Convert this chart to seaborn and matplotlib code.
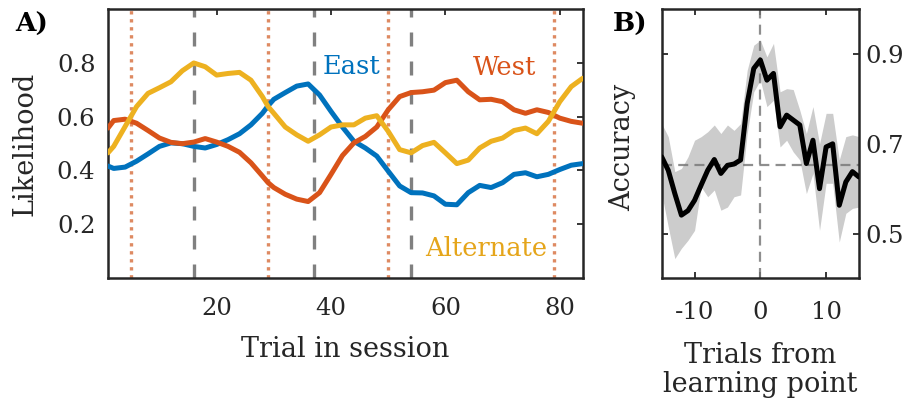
import numpy as np
import pandas as pd
import matplotlib
matplotlib.use("Agg")
import matplotlib.pyplot as plt
import seaborn as sns

# ---------------- Data: panel A ----------------
trials = [1, 2, 4, 6, 8, 10, 12, 14, 16, 18, 20, 22, 24, 26, 28, 29, 30, 32, 34, 36,
          38, 40, 42, 44, 46, 48, 50, 52, 54, 56, 58, 60, 62, 64, 66, 68, 70, 72, 74,
          76, 78, 80, 82, 84]
east_v = [0.416, 0.407, 0.412, 0.434, 0.461, 0.489, 0.502, 0.499, 0.489, 0.483, 0.496,
          0.514, 0.536, 0.569, 0.612, 0.640, 0.664, 0.689, 0.713, 0.721, 0.680, 0.619,
          0.561, 0.508, 0.483, 0.453, 0.397, 0.342, 0.317, 0.316, 0.305, 0.274, 0.272,
          0.317, 0.344, 0.336, 0.354, 0.385, 0.391, 0.376, 0.385, 0.403, 0.419, 0.425]
west_v = [0.557, 0.585, 0.590, 0.575, 0.548, 0.520, 0.504, 0.499, 0.505, 0.518, 0.505,
          0.489, 0.467, 0.428, 0.379, 0.354, 0.336, 0.311, 0.293, 0.284, 0.317, 0.385,
          0.455, 0.502, 0.526, 0.561, 0.625, 0.674, 0.689, 0.692, 0.698, 0.726, 0.735,
          0.692, 0.662, 0.664, 0.655, 0.625, 0.612, 0.625, 0.615, 0.594, 0.582, 0.575]
alt_v = [0.465, 0.489, 0.563, 0.637, 0.686, 0.707, 0.729, 0.770, 0.799, 0.785, 0.754,
         0.760, 0.764, 0.735, 0.674, 0.637, 0.612, 0.561, 0.532, 0.508, 0.532, 0.561,
         0.569, 0.569, 0.594, 0.603, 0.545, 0.477, 0.465, 0.492, 0.504, 0.465, 0.425,
         0.438, 0.483, 0.508, 0.520, 0.548, 0.557, 0.536, 0.582, 0.655, 0.711, 0.742]

switch_trials = [5, 29, 50, 79]       # orange dotted lines
learn_trials = [16, 37, 54]           # gray dashed lines
a_xticks = [20, 40, 60, 80]
a_yticks = [0.2, 0.4, 0.6, 0.8]

# ---------------- Data: panel B ----------------
b_x = list(range(-15, 16))
b_mean = [0.671, 0.641, 0.589, 0.541, 0.551, 0.574, 0.608, 0.641, 0.665, 0.634, 0.652,
          0.655, 0.664, 0.79, 0.868, 0.887, 0.842, 0.857, 0.738, 0.764, 0.753, 0.742,
          0.656, 0.708, 0.60, 0.693, 0.70, 0.563, 0.615, 0.638, 0.626]
b_upper = [0.745, 0.716, 0.638, 0.645, 0.671, 0.708, 0.716, 0.727, 0.742, 0.723, 0.742,
           0.730, 0.745, 0.864, 0.92, 0.931, 0.894, 0.924, 0.816, 0.823, 0.821, 0.775,
           0.723, 0.783, 0.70, 0.768, 0.768, 0.664, 0.716, 0.72, 0.716]
b_lower = [0.589, 0.515, 0.444, 0.467, 0.485, 0.507, 0.604, 0.582, 0.597, 0.552, 0.559,
           0.582, 0.586, 0.723, 0.816, 0.842, 0.783, 0.797, 0.693, 0.708, 0.682, 0.664,
           0.589, 0.634, 0.507, 0.612, 0.612, 0.481, 0.545, 0.556, 0.559]
chance_level = 0.652
b_xticks = [-10, 0, 10]
b_xticklabels = ["-10", "0", "10"]
b_yticks = [0.5, 0.7, 0.9]

# ---------------- Style ----------------
sns.set_style("white")
plt.rcParams["font.family"] = ["DejaVu Serif"]
plt.rcParams["axes.unicode_minus"] = False

C_EAST = "#0072BD"
C_WEST = "#D95319"
C_ALT = "#EDB120"
C_DOT = "#DE8A62"
SPINE = "#262626"

fig = plt.figure(figsize=(9.19, 4.04), dpi=100)
axA = fig.add_axes([0.1175, 0.312, 0.5165, 0.666])
axB = fig.add_axes([0.72, 0.311, 0.2147, 0.666])

# ---- Panel A ----
for t in switch_trials:
    axA.axvline(t, color=C_DOT, lw=2.4, ls=(0, (1, 1.4)), zorder=1)
for t in learn_trials:
    axA.axvline(t, color="#808080", lw=2.4, ls=(0, (4.2, 4.5)), zorder=1)

dfA = pd.DataFrame({"t": trials, "East": east_v, "West": west_v, "Alternate": alt_v})
for name, col in (("East", C_EAST), ("West", C_WEST), ("Alternate", C_ALT)):
    sns.lineplot(data=dfA, x="t", y=name, ax=axA, color=col, lw=3.6, zorder=3,
                 solid_joinstyle="round", solid_capstyle="round")

axA.text(43.6, 0.787, "East", color=C_EAST, fontsize=18.5, ha="center", va="center")
axA.text(70.4, 0.783, "West", color=C_WEST, fontsize=18.5, ha="center", va="center")
axA.text(67.2, 0.108, "Alternate", color="#E5A51A", fontsize=18.5, ha="center", va="center")

axA.set_xlim(1, 84)
axA.set_ylim(0, 1)
axA.set_xticks(a_xticks)
axA.set_yticks(a_yticks)
axA.set_xticklabels([str(v) for v in a_xticks])
axA.set_yticklabels([f"{v:.1f}" for v in a_yticks])
axA.tick_params(direction="in", top=True, right=True, length=4, width=1.3,
                color=SPINE, labelsize=17.5, labelcolor=SPINE)
axA.tick_params(axis="x", pad=14)
axA.tick_params(axis="y", pad=9)
axA.set_xlabel("Trial in session", fontsize=19.5, color=SPINE)
axA.set_ylabel("Likelihood", fontsize=19.5, color=SPINE)
axA.xaxis.label.set_va("center")
axA.yaxis.label.set_va("center")
axA.xaxis.set_label_coords(0.5, -0.265)
axA.yaxis.set_label_coords(-0.175, 0.5)

# ---- Panel B ----
axB.fill_between(b_x, b_lower, b_upper, color="#cccccc", lw=0, zorder=1)
axB.axhline(chance_level, color="#7a7a7a", lw=1.6, ls=(0, (4.5, 2.8)), alpha=0.85, zorder=2)
axB.axvline(0, color="#7a7a7a", lw=1.6, ls=(0, (4.5, 2.8)), alpha=0.85, zorder=2)
dfB = pd.DataFrame({"x": b_x, "acc": b_mean})
sns.lineplot(data=dfB, x="x", y="acc", ax=axB, color="black", lw=3.6, zorder=3)

axB.set_xlim(-15, 15)
axB.set_ylim(0.4, 1.0)
axB.set_xticks(b_xticks)
axB.set_xticklabels(b_xticklabels)
axB.set_yticks(b_yticks)
axB.set_yticklabels([f"{v:.1f}" for v in b_yticks])
axB.tick_params(direction="in", top=True, right=True, left=True, bottom=True,
                labelleft=False, labelright=True, length=4, width=1.3,
                color=SPINE, labelsize=17.5, labelcolor=SPINE)
axB.tick_params(axis="x", pad=16)
axB.tick_params(axis="y", pad=4.5)
axB.set_xlabel("Trials from\nlearning point", fontsize=19.5, color=SPINE, linespacing=1.1)
axB.set_ylabel("Accuracy", fontsize=19.5, color=SPINE)
axB.xaxis.label.set_va("center")
axB.yaxis.label.set_va("center")
axB.xaxis.set_label_coords(0.5, -0.34)
axB.yaxis.set_label_coords(-0.196, 0.488)

for ax in (axA, axB):
    for s in ax.spines.values():
        s.set_visible(True)
        s.set_color(SPINE)
        s.set_linewidth(1.8)

fig.text(0.0163, 0.921, "A)", fontsize=19, fontweight="bold", color="black",
         ha="left", va="baseline")
fig.text(0.667, 0.921, "B)", fontsize=19, fontweight="bold", color="black",
         ha="left", va="baseline")

fig.savefig("out.png", dpi=100)
